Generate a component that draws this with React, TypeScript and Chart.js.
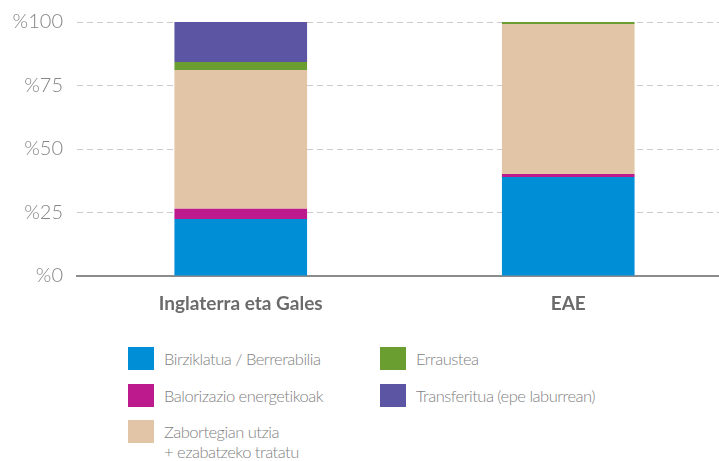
import React, { useEffect, useRef } from "react";
import { Chart, registerables } from "chart.js";

Chart.register(...registerables);

const categories = ["Inglaterra eta Gales", "EAE"];
const seriesNames = [
  "Birziklatua / Berrerabilia",
  "Balorizazio energetikoak",
  "Zabortegian utzia\n+ ezabatzeko tratatu",
  "Erraustea",
  "Transferitua (epe laburrean)",
];
const birziklatua = [22.4, 39.0];
const balorizazio = [4.1, 1.2];
const zabortegian = [54.6, 59.0];
const erraustea = [3.2, 0.8];
const transferitua = [15.7, 0];
const colors = ["#008ed6", "#bd1a8d", "#e2c4a7", "#6a9e31", "#5b55a3"];
const yTicks = [0, 25, 50, 75, 100];

const seriesValues = [birziklatua, balorizazio, zabortegian, erraustea, transferitua];

// legend grid placement (column, row)
const legendOrder = [
  { idx: 0, col: 0, row: 0 },
  { idx: 1, col: 0, row: 1 },
  { idx: 2, col: 0, row: 2 },
  { idx: 3, col: 1, row: 0 },
  { idx: 4, col: 1, row: 1 },
];

export default function App() {
  const canvasRef = useRef<HTMLCanvasElement>(null);

  useEffect(() => {
    if (!canvasRef.current) return;
    const chart = new Chart(canvasRef.current, {
      type: "bar",
      data: {
        labels: categories,
        datasets: seriesValues.map((vals, i) => ({
          label: seriesNames[i],
          data: vals,
          backgroundColor: colors[i],
          borderWidth: 0,
          categoryPercentage: 1,
          barPercentage: 0.405,
        })),
      },
      options: {
        animation: false,
        responsive: false,
        maintainAspectRatio: false,
        layout: { padding: { top: 22, right: 0, left: 0, bottom: 0 } },
        plugins: { legend: { display: false }, tooltip: { enabled: false } },
        scales: {
          x: {
            stacked: true,
            grid: { display: false, drawTicks: false },
            border: { display: true, color: "#8c8c8c", width: 2 },
            ticks: {
              color: "#6b6b6b",
              font: { family: "Lato", size: 19, weight: "bold" },
              padding: 16,
            },
            afterFit: (s: any) => {
              s.height = 44;
              s.paddingLeft = 0;
              s.paddingRight = 0;
            },
          },
          y: {
            stacked: true,
            min: 0,
            max: 100,
            afterBuildTicks: (s: any) => {
              s.ticks = yTicks.map((v) => ({ value: v }));
            },
            grid: {
              drawTicks: false,
              color: (c: any) => (c.tick && c.tick.value === 0 ? "rgba(0,0,0,0)" : "#cccccc"),
              lineWidth: 1,
            },
            border: { display: false, dash: [6, 4] },
            ticks: {
              color: "#858585",
              font: { family: "Lato", size: 20, weight: 300 },
              padding: 14,
              callback: (v: any) => "%" + v,
            },
            afterFit: (s: any) => {
              s.width = 77;
              s.paddingTop = 0;
              s.paddingBottom = 0;
            },
          },
        },
      },
    });
    return () => chart.destroy();
  }, []);

  return (
    <div
      style={{
        position: "fixed",
        left: 0,
        top: 0,
        width: 719,
        height: 461,
        overflow: "hidden",
        background: "#fff",
      }}
    >
      <canvas ref={canvasRef} width={732} height={320} style={{ display: "block" }} />
      {legendOrder.map(({ idx, col, row }) => (
        <div
          key={idx}
          style={{
            position: "absolute",
            left: col === 0 ? 128 : 380,
            top: 347 + row * 36.5,
            display: "flex",
            alignItems: "flex-start",
          }}
        >
          <div style={{ width: 26, height: 23, background: colors[idx], flex: "none" }} />
          <div
            style={{
              marginLeft: 10,
              fontFamily: "Lato",
              fontWeight: 300,
              fontSize: 16.5,
              letterSpacing: "-0.5px",
              lineHeight: "20px",
              color: "#7f7f7f",
              whiteSpace: "pre",
              marginTop: 2,
            }}
          >
            {seriesNames[idx]}
          </div>
        </div>
      ))}
    </div>
  );
}
